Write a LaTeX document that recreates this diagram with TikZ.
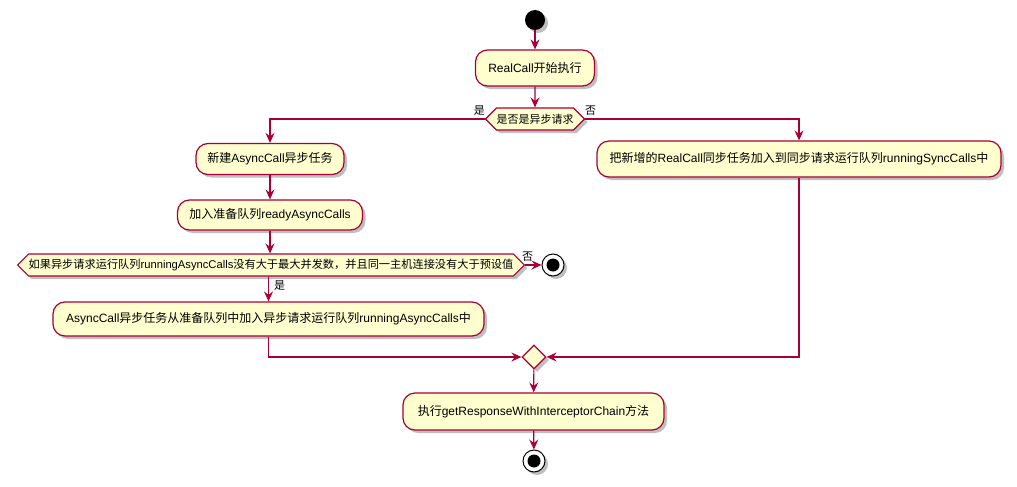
\documentclass[tikz,border=0pt]{standalone}
\usepackage{fontspec}
\setmainfont{Liberation Sans}
\newfontfamily\cjk{Noto Sans CJK SC}
\newcommand\zh[1]{{\cjk #1}}
\usetikzlibrary{shapes.geometric,shapes.symbols,shadows,arrows.meta}
\definecolor{pfill}{HTML}{FEFECE}
\definecolor{pline}{HTML}{A80036}
\begin{document}
\begin{tikzpicture}[x=1pt,y=-1pt,
  shad/.style={drop shadow={shadow xshift=3pt,shadow yshift=-3pt,fill=black,opacity=0.25}},
  act/.style={rectangle, rounded corners=12pt, draw=pline, fill=pfill, line width=1.2pt, inner sep=0pt, font=\fontsize{12}{14}\selectfont, shad},
  hex/.style={signal, signal to=west and east, draw=pline, fill=pfill, line width=1.2pt, minimum height=22pt, inner sep=0pt, font=\fontsize{11}{13}\selectfont, shad},
  arr/.style={draw=pline, line width=1.2pt, -{Stealth[length=10pt,width=9pt,inset=3.5pt]}},
  lbl/.style={inner sep=0pt, font=\fontsize{11}{13}\selectfont},
  startc/.style={circle, fill=black, minimum size=20pt, inner sep=0pt, shad},
  endc/.style={circle, draw=black, fill=white, line width=1pt, minimum size=22pt, inner sep=0pt, shad,
    path picture={\fill[black] (path picture bounding box.center) circle (6.5pt);}},
  merge/.style={diamond, draw=pline, fill=pfill, line width=1.2pt, minimum width=24pt, minimum height=24pt, inner sep=0pt, shad}
]
\useasboundingbox[fill=white] (0,0) rectangle (1017,487);

\node[startc] (s) at (535,20) {};
\node[act, minimum width=119pt, minimum height=36pt] (rc) at (535,68) {RealCall\zh{开始执行}};
\node[hex, minimum width=96pt] (d1) at (535,119) {\zh{是否是异步请求}};
\node[lbl, anchor=south east] (l1) at (485,116) {\zh{是}};
\node[lbl, anchor=south west] (l2) at (585,116) {\zh{否}};

\node[act, minimum width=148pt, minimum height=31pt] (b1) at (270,159) {\zh{新建}AsyncCall\zh{异步任务}};
\node[act, minimum width=185pt, minimum height=30pt] (b2) at (270,215) {\zh{加入准备队列}readyAsyncCalls};
\node[hex, minimum width=503pt, font=\fontsize{11.2}{13}\selectfont] (d2) at (271,265) {\zh{如果异步请求运行队列}runningAsyncCalls\zh{没有大于最大并发数，并且同一主机连接没有大于预设值}};
\node[lbl, anchor=south west] (l3) at (522,262) {\zh{否}};
\node[endc] (e1) at (553,265) {};
\node[lbl, anchor=west] (l4) at (274,286) {\zh{是}};
\node[act, minimum width=431pt, minimum height=34pt] (b4) at (268.5,319) {AsyncCall\zh{异步任务从准备队列中加入异步请求运行队列}runningAsyncCalls\zh{中}};

\node[act, minimum width=404pt, minimum height=36pt] (b3) at (799,159) {\zh{把新增的}RealCall\zh{同步任务加入到同步请求运行队列}runningSyncCalls\zh{中}};

\node[merge] (m) at (534,357) {};
\node[act, minimum width=261pt, minimum height=37pt] (b5) at (533.5,411.5) {\zh{执行}getResponseWithInterceptorChain\zh{方法}};
\node[endc] (e2) at (534,461) {};

\draw[arr] (s) -- (rc);
\draw[arr] (rc) -- (d1);
\draw[arr] (d1.west) -| (b1.north);
\draw[arr] (d1.east) -| (b3.north);
\draw[arr] (b1) -- (b2);
\draw[arr] (b2.south) -- (b2.south |- d2.north);
\draw[arr] (d2.east) -- (e1);
\draw[arr] (b4.north |- d2.south) -- (b4.north);
\draw[arr] (b4.south) |- (m.west);
\draw[arr] (b3.south) |- (m.east);
\draw[arr] (m) -- (b5);
\draw[arr] (b5) -- (e2);
\end{tikzpicture}
\end{document}
